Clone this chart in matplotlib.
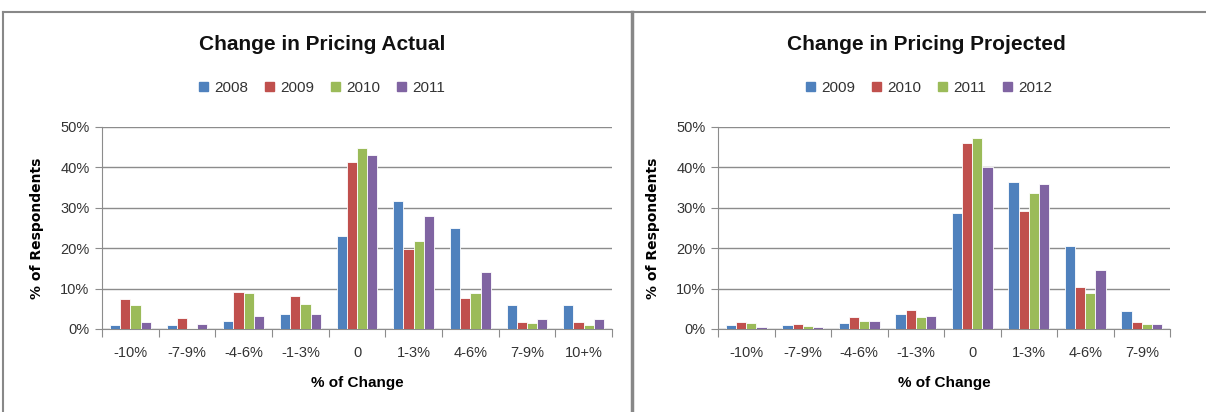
import matplotlib.pyplot as plt
import numpy as np
from matplotlib.lines import Line2D
from matplotlib.ticker import PercentFormatter

plt.rcParams['font.family'] = ['Liberation Sans Narrow', 'Liberation Sans', 'DejaVu Sans']

colors = ['#4F81BD', '#C0504D', '#9BBB59', '#8064A2']

# left chart: actual
actual_cats = ['-10%', '-7-9%', '-4-6%', '-1-3%', '0', '1-3%', '4-6%', '7-9%', '10+%']
actual_years = ['2008', '2009', '2010', '2011']
actual_2008 = [0.9, 0.9, 1.9, 3.8, 23.0, 31.8, 24.9, 5.9, 5.9]
actual_2009 = [7.4, 2.8, 9.2, 8.1, 41.3, 19.9, 7.6, 1.7, 1.7]
actual_2010 = [5.9, 0.3, 8.8, 6.2, 44.9, 21.8, 9.0, 1.5, 0.9]
actual_2011 = [1.7, 1.2, 3.3, 3.8, 43.0, 28.0, 14.2, 2.4, 2.4]

# right chart: projected
proj_cats = ['-10%', '-7-9%', '-4-6%', '-1-3%', '0', '1-3%', '4-6%', '7-9%']
proj_years = ['2009', '2010', '2011', '2012']
proj_2009 = [0.9, 0.9, 1.4, 3.8, 28.7, 36.3, 20.6, 4.5]
proj_2010 = [1.7, 1.2, 3.0, 4.8, 46.1, 29.2, 10.4, 1.7]
proj_2011 = [1.5, 0.8, 2.1, 2.9, 47.2, 33.7, 9.0, 1.2]
proj_2012 = [0.6, 0.6, 2.1, 3.3, 40.0, 35.9, 14.5, 1.2]

W, H = 1206, 412
fig = plt.figure(figsize=(W / 100, H / 100), dpi=100)
txt = '#333333'
grid = '#8c8c8c'


def draw(ax, cats, series, years, title, title_x, leg_x):
    n = len(cats)
    x = np.arange(n)
    bw = 0.18
    for i, vals in enumerate(series):
        ax.bar(x + (i - 1.5) * bw, vals, bw, color=colors[i], edgecolor='white',
               linewidth=0.6, zorder=3)
    ax.set_xlim(-0.5, n - 0.5)
    ax.set_ylim(0, 50)
    ax.set_yticks(range(0, 51, 10))
    ax.yaxis.set_major_formatter(PercentFormatter(decimals=0))
    ax.grid(axis='y', color=grid, linewidth=1, zorder=0)
    ax.set_xticks(np.arange(-0.5, n, 1.0))
    ax.set_xticklabels([])
    ax.set_xticks(x, minor=True)
    ax.set_xticklabels(cats, minor=True)
    ax.tick_params(axis='x', which='major', length=6, color=grid, direction='out')
    ax.tick_params(axis='x', which='minor', length=0, pad=12, labelsize=10.5, labelcolor=txt)
    ax.tick_params(axis='y', length=5, color=grid, labelsize=10.5, labelcolor=txt, pad=4)
    for s in ['top', 'right']:
        ax.spines[s].set_visible(False)
    for s in ['left', 'bottom']:
        ax.spines[s].set_color(grid)
    ax.set_ylabel('% of Respondents', fontsize=10, fontweight='bold', labelpad=12,
                  family=['DejaVu Sans'])
    ax.set_xlabel('% of Change', fontsize=11, fontweight='bold', labelpad=12)
    fig.text(title_x / W, 1 - 44 / H, title, ha='center', va='center',
             fontsize=15, fontweight='bold', color='#111111')
    handles = [plt.Rectangle((0, 0), 1, 1, color=c) for c in colors]
    fig.legend(handles, years, loc='center', bbox_to_anchor=(leg_x / W, 1 - 88 / H),
               ncol=4, frameon=False, fontsize=11, handlelength=0.6, handleheight=0.6,
               columnspacing=1.1, handletextpad=0.4, labelcolor=txt)


ax1 = fig.add_axes([102 / W, (H - 329) / H, 510 / W, 202 / H])
draw(ax1, actual_cats, [actual_2008, actual_2009, actual_2010, actual_2011],
     actual_years, 'Change in Pricing Actual', 322, 322)

ax2 = fig.add_axes([718 / W, (H - 329) / H, 452 / W, 202 / H])
draw(ax2, proj_cats, [proj_2009, proj_2010, proj_2011, proj_2012],
     proj_years, 'Change in Pricing Projected', 926, 929)

# panel borders
border = '#888888'
fig.add_artist(Line2D([3 / W, 1], [1 - 12 / H, 1 - 12 / H], color=border, lw=1.5,
                      transform=fig.transFigure))
fig.add_artist(Line2D([3 / W, 3 / W], [0, 1 - 12 / H], color=border, lw=1.5,
                      transform=fig.transFigure))
fig.add_artist(Line2D([632 / W, 632 / W], [0, 1 - 12 / H], color=border, lw=2.5,
                      transform=fig.transFigure))

fig.savefig('out.png', dpi=100)
